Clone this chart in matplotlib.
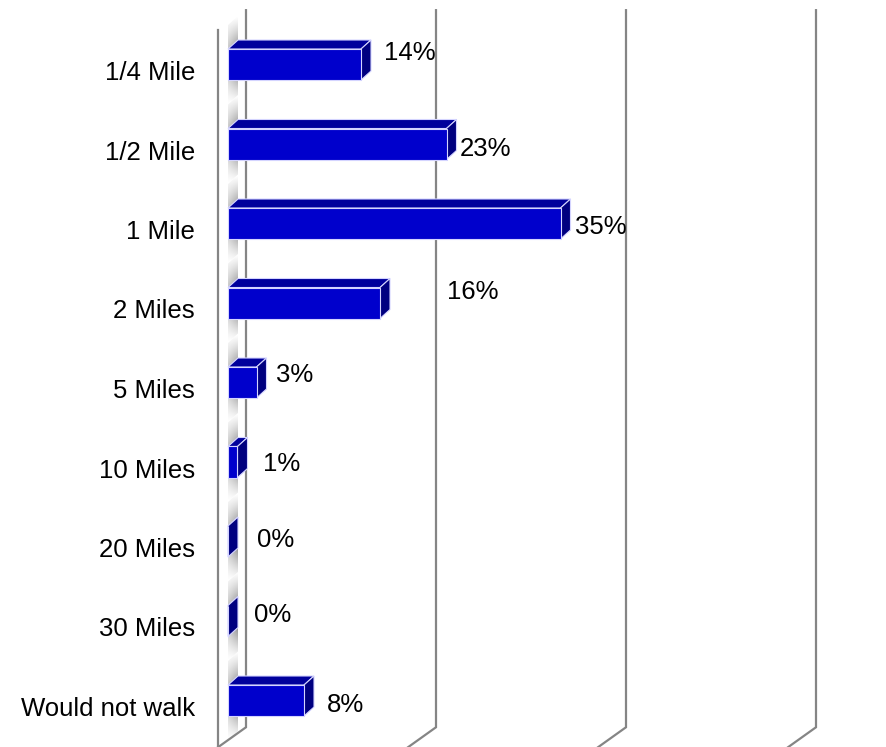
import matplotlib
matplotlib.use('Agg')
import matplotlib.pyplot as plt
from matplotlib.patches import Polygon
import numpy as np

plt.rcParams['font.family'] = ['Liberation Sans', 'DejaVu Sans']

categories = ['1/4 Mile', '1/2 Mile', '1 Mile', '2 Miles', '5 Miles',
              '10 Miles', '20 Miles', '30 Miles', 'Would not walk']
percent = [14, 23, 35, 16, 3, 1, 0, 0, 8]
grid_ticks = [0, 20, 40, 60]

# value label nudges in pixels: x from the bar's end, y (baseline) from the row centre
label_dx = [13, 3, 4, 57, 10, 16, 19, 16, 13]
label_dy = [-11.5, 5, 3.5, -11, -7.5, 2, -1.5, -6, 4.5]

W, H = 886, 747
fig = plt.figure(figsize=(W / 100, H / 100), dpi=100)
ax = fig.add_axes([0, 0, 1, 1])

px_x = 9.5    # pixels per percent
px_y = 79.5   # pixels per row
x0_px, y0_px = 218, 71.5


def px(dx, dy):
    return dx / px_x, dy / px_y


# wall depth (front plane -> back plane)
wdx, wdy = px(28, -20)
wall_top = -0.52
wall_bot = 8.5

grid_col = '#858585'
for t in grid_ticks:
    ax.plot([t + wdx, t + wdx, t], [wall_top + wdy, wall_bot + wdy, wall_bot],
            color=grid_col, lw=1.6, zorder=1, solid_joinstyle='miter')
ax.plot([0, 0], [wall_top, wall_bot], color=grid_col, lw=1.6, zorder=1)

# bar geometry
fx, fy = px(10, -7)       # front face offset from the front plane
bdx, bdy = px(10, -9)     # bar depth
h = 15.5 / px_y
ext = 24 / px_y


def wall_shade(xl, y_edge, above):
    # grey fade on the side wall next to a bar end
    n = 40
    ramp = np.linspace(1, 0, n) ** 1.2
    horiz = np.linspace(0.5, 1, 12)
    img = np.zeros((n, 12, 4))
    img[..., :3] = 0.5
    img[..., 3] = 0.85 * ramp[:, None] * horiz[None, :]
    if above:
        y_far = y_edge + bdy - ext
        poly = [(xl, y_edge), (xl + bdx, y_edge + bdy),
                (xl + bdx, y_far), (xl, y_edge - ext)]
        im = ax.imshow(img[::-1], extent=(xl, xl + bdx, y_edge, y_far),
                       origin='upper', aspect='auto', zorder=2,
                       interpolation='bilinear')
    else:
        y_far = y_edge + ext
        poly = [(xl, y_edge), (xl + bdx, y_edge + bdy),
                (xl + bdx, y_edge + bdy + ext), (xl, y_far)]
        im = ax.imshow(img, extent=(xl, xl + bdx, y_far, y_edge + bdy),
                       origin='upper', aspect='auto', zorder=2,
                       interpolation='bilinear')
    im.set_clip_path(Polygon(poly, closed=True, transform=ax.transData))


edge = '#d4d4ff'
for i, v in enumerate(percent):
    yc = i + fy
    xl = fx
    xr = fx + v
    yt, yb = yc - h, yc + h

    wall_shade(xl, yt, True)
    wall_shade(xl, yb, False)

    front = [(xl, yt), (xr, yt), (xr, yb), (xl, yb)]
    top = [(xl, yt), (xr, yt), (xr + bdx, yt + bdy), (xl + bdx, yt + bdy)]
    side = [(xr, yt), (xr + bdx, yt + bdy), (xr + bdx, yb + bdy), (xr, yb)]
    ax.add_patch(Polygon(top, closed=True, fc='#00009c', ec=edge, lw=0.8, zorder=3))
    ax.add_patch(Polygon(side, closed=True, fc='#000080', ec=edge, lw=0.8, zorder=3))
    ax.add_patch(Polygon(front, closed=True, fc='#0000cc', ec=edge, lw=0.8, zorder=4))

    lx, ly = px(label_dx[i], label_dy[i])
    ax.text(xr + bdx + lx, i + ly, f'{v}%', ha='left', va='baseline',
            fontsize=18.5, color='black', zorder=5)

    cx, cy = px(-23, 8.5)
    ax.text(cx, i + cy, categories[i], ha='right', va='baseline',
            fontsize=18.5, color='black', zorder=5)

ax.set_xlim(-x0_px / px_x, (W - x0_px) / px_x)
ax.set_ylim((H - y0_px) / px_y, -y0_px / px_y)
ax.axis('off')

fig.savefig('out.png', dpi=100, facecolor='white')
